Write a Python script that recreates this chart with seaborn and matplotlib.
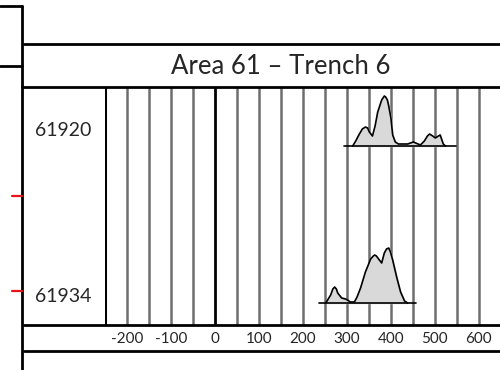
import numpy as np
import pandas as pd
import seaborn as sns
import matplotlib.pyplot as plt

# sample names and where their baselines sit (in px above the bottom of the plot)
samples = ["61920", "61934"]
base_levels = [179, 22]
baseline_span = [(293, 549), (236, 458)]

# 61920 age distribution (x = age, h = relative height)
x_61920 = [313, 320, 327, 335, 342, 347, 351, 358, 364, 370, 379, 385, 388, 392, 395, 400, 404, 410, 417, 438, 451, 467, 476, 483, 488, 495, 501, 508, 512, 519, 524]
h_61920 = [0, 5, 11, 17, 19, 18, 14, 10, 20, 34, 46, 50, 49, 46, 40, 28, 11, 4, 2, 2, 4, 1, 5, 10, 12, 10, 8, 10, 11, 2, 0]

# 61934 age distribution
x_61934 = [252, 263, 268, 272, 276, 279, 288, 297, 308, 317, 323, 331, 342, 354, 360, 363, 367, 372, 379, 385, 390, 395, 399, 404, 413, 422, 431, 438]
h_61934 = [0, 8, 14, 16, 14, 10, 5, 4, 1, 1, 6, 15, 31, 44, 47, 48, 47, 44, 40, 50, 54, 55, 51, 43, 26, 11, 2, 0]

tick_vals = [-200, -100, 0, 100, 200, 300, 400, 500, 600]
grid_vals = np.arange(-200, 601, 50)

sns.set_theme(style="white")
plt.rcParams['font.family'] = ['Lato', 'DejaVu Sans']

fig = plt.figure(figsize=(5, 3.7), dpi=100)
ax = fig.add_axes([105/500, 45/370, 395/500, 238/370])
ax.set_xlim(-250, 648)
ax.set_ylim(0, 238)
for s in ax.spines.values():
    s.set_visible(False)

for g in grid_vals:
    if g == 0:
        ax.axvline(g, color='black', lw=2, zorder=1)
    else:
        ax.axvline(g, color='#6e6e6e', lw=1.8, zorder=1)
ax.axvline(-250, color='black', lw=2.2, zorder=1)

curves = [(x_61920, h_61920), (x_61934, h_61934)]
for (xs, hs), b, (x0, x1) in zip(curves, base_levels, baseline_span):
    df = pd.DataFrame({"age": xs, "y": np.array(hs) + b})
    ax.fill_between(df["age"], b, df["y"], color='#d9d9d9', zorder=2)
    sns.lineplot(data=df, x="age", y="y", ax=ax, color='black', lw=1.2, zorder=3)
    ax.plot([x0, x1], [b, b], color='black', lw=1.2, zorder=3)

ax.set_xticks(tick_vals)
ax.set_xticklabels([str(t) for t in tick_vals], fontsize=11)
ax.tick_params(axis='x', length=0, pad=5)
ax.set_yticks([])
ax.set_xlabel("")
ax.set_ylabel("")

# frame lines drawn in pixel space on an overlay
ov = fig.add_axes([0, 0, 1, 1], zorder=5)
ov.set_xlim(0, 500)
ov.set_ylim(370, 0)
ov.axis('off')
ov.patch.set_alpha(0)
ov.plot([22, 22], [6, 370], color='black', lw=2)
ov.plot([0, 22], [6, 6], color='black', lw=2)
ov.plot([0, 22], [66, 66], color='black', lw=2)
ov.plot([24, 500], [44, 44], color='black', lw=2)
ov.plot([22, 500], [87, 87], color='black', lw=2)
ov.plot([24, 500], [325, 325], color='black', lw=2)
ov.plot([24, 500], [351, 351], color='black', lw=2)
ov.plot([12, 22], [196, 196], color='#e8141c', lw=1.6)
ov.plot([12, 22], [291, 291], color='#e8141c', lw=1.6)

ov.text(281, 66, "Area 61 \u2013 Trench 6", fontsize=18.5, ha='center', va='center')
for name, y in zip(samples, [130, 296]):
    ov.text(35, y, name, fontsize=14, ha='left', va='center')

fig.savefig("out.png", dpi=100)
